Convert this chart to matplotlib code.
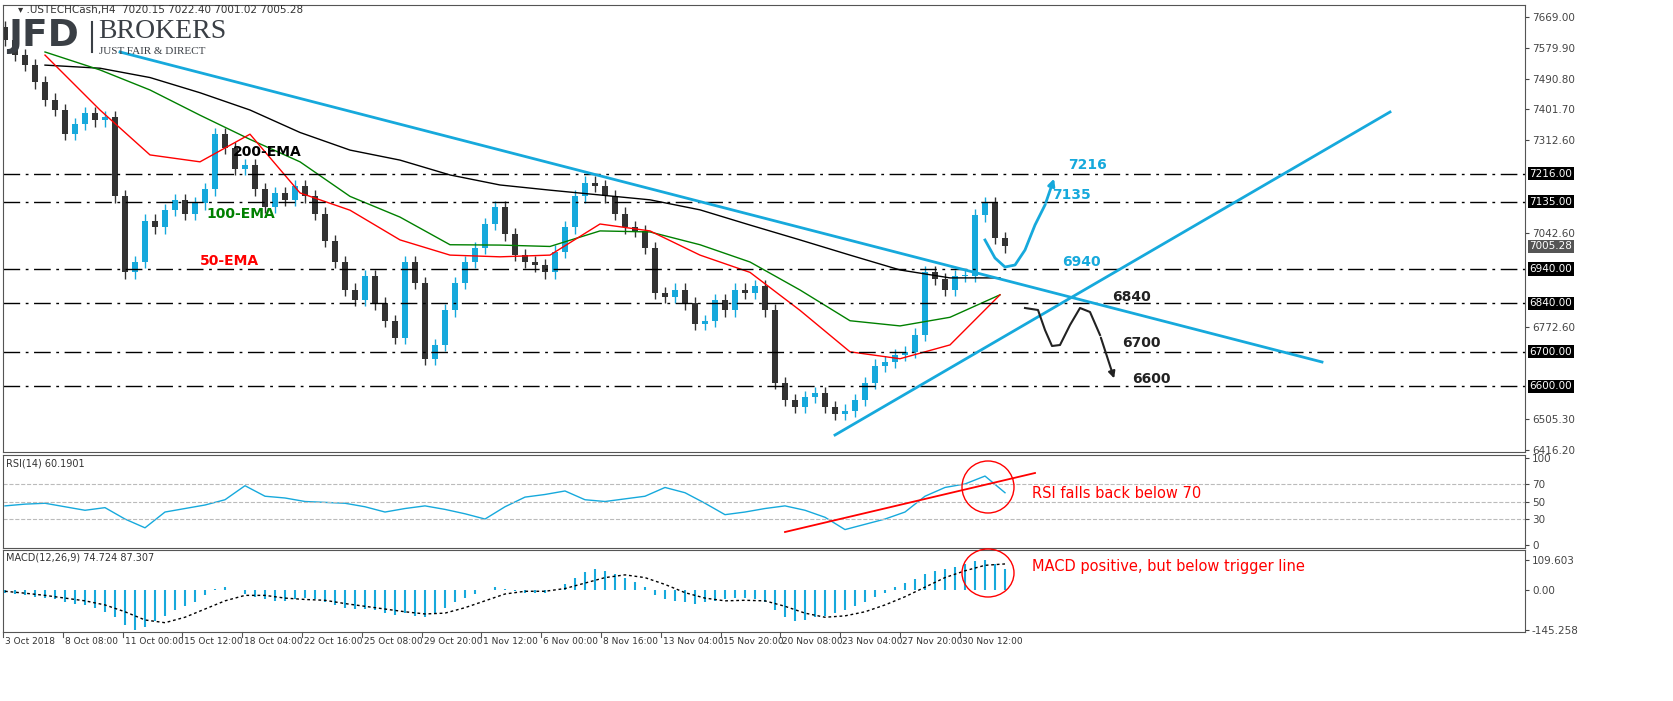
import numpy as np
import matplotlib.pyplot as plt
from matplotlib.patches import Ellipse, Rectangle

W, H = 1674, 701

# closes, one candle every 10 px from x=5
closes = [7602, 7560, 7530, 7480, 7430, 7400, 7330, 7360, 7390, 7370, 7380, 7150, 6930, 6960,
          7080, 7060, 7110, 7140, 7100, 7130, 7170, 7330, 7290, 7230, 7240, 7170, 7120, 7160,
          7140, 7180, 7150, 7100, 7020, 6960, 6880, 6850, 6920, 6840, 6790, 6740, 6960, 6900,
          6680, 6720, 6820, 6900, 6960, 7000, 7070, 7120, 7040, 6980, 6960, 6950, 6930, 6990,
          7060, 7150, 7190, 7180, 7150, 7100, 7060, 7050, 7000, 6870, 6860, 6880, 6840, 6780,
          6790, 6850, 6820, 6880, 6870, 6890, 6820, 6610, 6560, 6540, 6570, 6580, 6540, 6520,
          6530, 6560, 6610, 6660, 6670, 6690, 6700, 6750, 6930, 6910, 6880, 6920, 6920, 7095,
          7130, 7030, 7005]
first_open = 7640

ema_x = [45, 100, 150, 200, 250, 300, 350, 400, 450, 500, 550, 600, 650, 700, 750, 800, 850, 900, 950, 1000]
ema50 = [7559, 7400, 7270, 7250, 7330, 7160, 7110, 7024, 6980, 6975, 6980, 7070, 7050, 6980, 6930,
         6820, 6700, 6680, 6720, 6865]
ema100 = [7568, 7516, 7458, 7385, 7315, 7250, 7150, 7090, 7010, 7009, 7005, 7050, 7047, 7010, 6960,
          6879, 6790, 6775, 6800, 6865]
ema200 = [7530, 7521, 7494, 7450, 7400, 7335, 7284, 7255, 7212, 7183, 7168, 7154, 7140, 7111, 7067,
          7024, 6980, 6937, 6914, 6914]

# RSI, one value every 20 px from x=5
rsi = [45, 47, 48, 44, 40, 43, 30, 20, 38, 42, 46, 52, 68, 56, 54, 50, 49, 48, 44, 38, 42, 45,
       41, 36, 30, 44, 55, 58, 62, 52, 50, 53, 56, 66, 60, 48, 35, 38, 42, 45, 40, 32, 18, 24,
       30, 38, 56, 66, 70, 79, 60]
# MACD histogram, every 10 px; signal, every 20 px
macd = [-10, -15, -20, -25, -30, -35, -45, -50, -55, -65, -80, -100, -130, -145, -135, -115, -95,
        -75, -60, -45, -20, 5, 10, 0, -15, -25, -35, -40, -40, -35, -30, -35, -45, -55, -65, -70,
        -70, -75, -85, -90, -85, -95, -100, -85, -65, -45, -30, -15, 0, 10, 5, -5, -10, -12, -10,
        0, 20, 45, 65, 75, 70, 60, 45, 30, 10, -20, -35, -40, -45, -50, -45, -40, -35, -30, -30,
        -35, -45, -75, -100, -115, -110, -100, -95, -85, -75, -60, -45, -25, -10, 10, 25, 40, 60,
        70, 75, 85, 95, 105, 110, 95, 75]
signal = [-5, -12, -20, -30, -40, -55, -80, -110, -120, -100, -70, -40, -20, -20, -30, -35, -38,
          -50, -60, -70, -80, -88, -85, -65, -40, -15, -5, -5, 5, 25, 45, 55, 45, 20, -10, -30,
          -40, -38, -40, -60, -85, -100, -95, -80, -55, -25, 10, 45, 70, 90, 95]

levels = [7216, 7135, 6940, 6840, 6700, 6600]
price_ticks = [7669.00, 7579.90, 7490.80, 7401.70, 7312.60, 7042.60, 6772.60, 6505.30, 6416.20]
date_labels = ['3 Oct 2018', '8 Oct 08:00', '11 Oct 00:00', '15 Oct 12:00', '18 Oct 04:00',
               '22 Oct 16:00', '25 Oct 08:00', '29 Oct 20:00', '1 Nov 12:00', '6 Nov 00:00',
               '8 Nov 16:00', '13 Nov 04:00', '15 Nov 20:00', '20 Nov 08:00', '23 Nov 04:00',
               '27 Nov 20:00', '30 Nov 12:00']

BLUE = '#16a9dc'
DARK = '#333333'


def box(top, bot):
    return [3 / W, 1 - bot / H, (1525 - 3) / W, (bot - top) / H]


fig = plt.figure(figsize=(W / 100, H / 100), dpi=100)
ax = fig.add_axes(box(5, 452))
ar = fig.add_axes(box(455, 548))
am = fig.add_axes(box(550, 632))
for a in (ax, ar, am):
    a.set_xlim(3, 1525)
    a.yaxis.tick_right()
    a.tick_params(labelsize=7.5, colors='#444', length=3, pad=2)
    a.set_xticks([])
    for s in a.spines.values():
        s.set_color('#555')

# candles
xs = np.arange(len(closes)) * 10 + 5
opens = [first_open] + closes[:-1]
for x, o, c in zip(xs, opens, closes):
    col = BLUE if c >= o else DARK
    ax.vlines(x, min(o, c) - 18, max(o, c) + 18, color=col, lw=1)
    ax.add_patch(Rectangle((x - 3, min(o, c)), 6, max(abs(c - o), 2), color=col, lw=0))

ax.plot(ema_x, ema200, color='black', lw=1)
ax.plot(ema_x, ema100, color='green', lw=1)
ax.plot(ema_x, ema50, color='red', lw=1)
for lv in levels:
    ax.axhline(lv, color='black', lw=1, ls=(0, (12, 4, 2, 4)))
ax.set_ylim(6410, 7704)
ax.set_yticks(price_ticks)
ax.set_yticklabels([f'{v:.2f}' for v in price_ticks])
for lv in levels:
    ax.text(1.003, lv, f'{lv:.2f}', transform=ax.get_yaxis_transform(), fontsize=7.5,
            color='white', va='center', bbox=dict(fc='black', ec='none', pad=1.2))
ax.text(1.003, 7005.28, '7005.28', transform=ax.get_yaxis_transform(), fontsize=7.5,
        color='white', va='center', bbox=dict(fc='#555', ec='none', pad=1.2))

rx = np.arange(len(rsi)) * 20 + 5
ar.plot(rx, rsi, color=BLUE, lw=1)
for lv in (70, 50, 30):
    ar.axhline(lv, color='#bbb', lw=0.8, ls='--')
ar.set_ylim(-3, 103)
ar.set_yticks([100, 70, 50, 30, 0])

mx = np.arange(len(macd)) * 10 + 5
am.vlines(mx, 0, macd, color=BLUE, lw=1.5)
am.plot(np.arange(len(signal)) * 20 + 5, signal, color='black', lw=1, ls=(0, (2, 2)))
am.set_ylim(-154, 146)
am.set_yticks([109.603, 0, -145.258])
am.set_yticklabels(['109.603', '0.00', '-145.258'])

# overlay in pixel coordinates
ov = fig.add_axes([0, 0, 1, 1])
ov.set_xlim(0, W)
ov.set_ylim(H, 0)
ov.axis('off')
ov.plot([120, 1322], [52, 362], color=BLUE, lw=2)
ov.plot([835, 1390], [435, 112], color=BLUE, lw=2)
ov.plot([785, 1035], [532, 473], color='red', lw=1.3)
ov.add_patch(Ellipse((988, 487), 52, 52, fill=False, ec='red', lw=1))
ov.add_patch(Ellipse((988, 573), 52, 48, fill=False, ec='red', lw=1))

ov.plot([985, 995, 1005, 1015, 1025, 1035, 1045], [240, 258, 267, 265, 250, 225, 205],
        color=BLUE, lw=2)
ov.annotate('', xy=(1055, 176), xytext=(1045, 205),
            arrowprops=dict(arrowstyle='-|>', color=BLUE, lw=2))
ov.plot([1025, 1038, 1045, 1052, 1060, 1070, 1080, 1090, 1100],
        [308, 310, 330, 346, 345, 325, 308, 312, 335], color='#222', lw=1.5)
ov.annotate('', xy=(1115, 381), xytext=(1100, 335),
            arrowprops=dict(arrowstyle='-|>', color='#222', lw=1.5))

lab = dict(fontsize=10, fontweight='bold', va='center')
ov.text(1068, 165, '7216', color=BLUE, **lab)
ov.text(1052, 195, '7135', color=BLUE, **lab)
ov.text(1062, 262, '6940', color=BLUE, **lab)
ov.text(1112, 297, '6840', color='#222', **lab)
ov.text(1122, 343, '6700', color='#222', **lab)
ov.text(1132, 379, '6600', color='#222', **lab)
ov.text(233, 152, '200-EMA', color='black', **lab)
ov.text(206, 214, '100-EMA', color='green', **lab)
ov.text(200, 261, '50-EMA', color='red', **lab)
ov.text(1032, 493, 'RSI falls back below 70', color='red', fontsize=10.5, va='center')
ov.text(1032, 567, 'MACD positive, but below trigger line', color='red', fontsize=10.5, va='center')

ov.text(18, 10, '\u25be .USTECHCash,H4  7020.15 7022.40 7001.02 7005.28', fontsize=7.5,
        color='#333', va='center')
ov.text(6, 464, 'RSI(14) 60.1901', fontsize=7, color='#333', va='center')
ov.text(6, 557, 'MACD(12,26,9) 74.724 87.307', fontsize=7, color='#333', va='center')
ov.text(8, 36, 'JFD', fontsize=27, fontweight='bold', color='#3a3f45', va='center')
ov.plot([92, 92], [22, 52], color='#3a3f45', lw=1.5)
ov.text(98, 31, 'BROKERS', fontsize=20, family='Liberation Serif', color='#3a3f45', va='center')
ov.text(99, 51, 'JUST FAIR & DIRECT', fontsize=8, family='Liberation Serif', color='#3a3f45',
        va='center')

for i, l in enumerate(date_labels):
    x = 3 + 59.8 * i
    ov.plot([x, x], [632, 637], color='#555', lw=0.8)
    ov.text(x + 2, 641, l, fontsize=6.5, color='#333', va='center')

fig.savefig('out.png', dpi=100, facecolor='white')
